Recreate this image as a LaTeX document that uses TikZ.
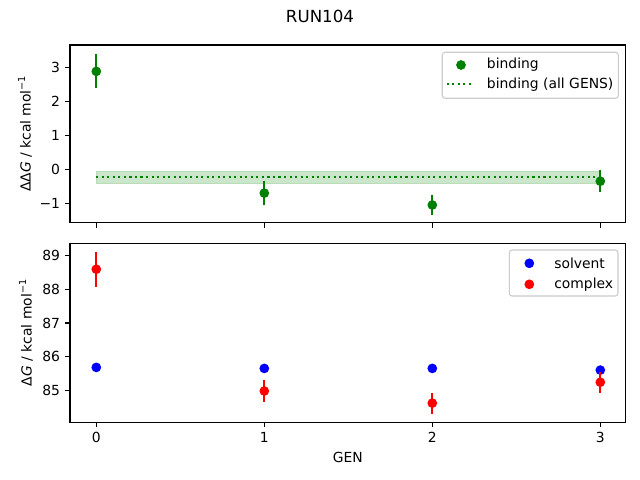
\documentclass[tikz,border=0pt]{standalone}
\usepackage{fontspec}
\setmainfont{DejaVu Sans}[ItalicFont={DejaVu Sans Oblique}]
\begin{document}
\begin{tikzpicture}[x=0.72pt,y=-0.72pt,
  spine/.style={line width=0.8pt,black},
  tickmark/.style={line width=0.8pt,black},
  ticklab/.style={inner sep=0pt,font=\fontsize{10}{12}\selectfont},
  errbar/.style={line width=1.5pt},
  legframe/.style={draw={rgb,255:red,204;green,204;blue,204},line width=0.8pt,fill=white,fill opacity=0.8,rounded corners=2pt},
  labtxt/.style={inner sep=0pt,font=\fontsize{10}{12}\selectfont}]
\definecolor{mgreen}{RGB}{0,128,0}
\definecolor{mband}{RGB}{204,230,204}
\definecolor{mbandedge}{RGB}{185,220,185}
\def\mr{3.5pt}
\useasboundingbox (0,0) rectangle (640,480);
\fill[white] (0,0) rectangle (640,480);
% title
\node[labtxt,font=\fontsize{12}{14}\selectfont] (title) at (320,16.5) {RUN104};
% ---------- top axes ----------
\fill[mband,draw=mbandedge,line width=0.5pt] (96.3,171.3) rectangle (600.3,183.6);
\draw[mgreen,line width=1.5pt,dash pattern=on 1.5pt off 2.475pt] (96.3,176.8) -- (600.3,176.8);
\foreach \x/\y/\a/\b in {96.3/71.4/54.4/88.4, 264.3/193.1/181.2/205.0, 432.3/205.0/194.8/215.2, 600.3/181.2/170.0/192.4}{
  \draw[errbar,mgreen] (\x,\a) -- (\x,\b);
  \fill[mgreen] (\x,\y) circle[radius=\mr];
}
\draw[spine] (70,45) rectangle (625.6,222.7);
\foreach \y/\t in {67.3/3, 101.3/2, 135.3/1, 169.3/0, 203.3/−1}{
  \draw[tickmark] (70,\y) -- ++(-3.5pt,0);
  \node[ticklab,anchor=east] at ([xshift=-7pt]70,\y) {\t};
}
\foreach \x in {96.3,264.3,432.3,600.3}{
  \draw[tickmark] (\x,222.7) -- ++(0,-3.5pt);
}
\node[labtxt,rotate=90] (ylabtop) at (25,133.8) {ΔΔ\textit{G} / kcal mol\raisebox{0.75ex}{\fontsize{7}{7}\selectfont −1}};
% top legend
\draw[legframe] (442.3,52.3) rectangle (618.3,98.3);
\fill[mgreen] (461,65) circle[radius=\mr];
\node[labtxt,anchor=west] (lb1) at (486.7,65) {binding};
\draw[mgreen,line width=1.5pt,dash pattern=on 1.5pt off 2.475pt] (446.7,84.3) -- (474.3,84.3);
\node[labtxt,anchor=west] (lb2) at (486.7,84.3) {binding (all GENS)};
% ---------- bottom axes ----------
\foreach \x/\y in {96.3/367.4, 264.3/368.4, 432.3/368.4, 600.3/370.1}{
  \fill[blue] (\x,\y) circle[radius=\mr];
}
\foreach \x/\y/\a/\b in {96.3/269.2/251.7/286.7, 264.3/391.0/379.6/402.4, 432.3/403.1/392.7/413.5, 600.3/382.2/371.8/392.6}{
  \draw[errbar,red] (\x,\a) -- (\x,\b);
  \fill[red] (\x,\y) circle[radius=\mr];
}
\draw[spine] (70,243.3) rectangle (625.6,422.3);
\foreach \y/\t in {390.3/85, 356.65/86, 323.0/87, 289.35/88, 255.7/89}{
  \draw[tickmark] (70,\y) -- ++(-3.5pt,0);
  \node[ticklab,anchor=east] at ([xshift=-7pt]70,\y) {\t};
}
\foreach \x/\t in {96.3/0,264.3/1,432.3/2,600.3/3}{
  \draw[tickmark] (\x,422.3) -- ++(0,-3.5pt);
  \node[ticklab,anchor=north] at ([yshift=-7pt]\x,422.3) {\t};
}
\node[labtxt] (xlab) at (347.8,457.3) {GEN};
\node[labtxt,rotate=90] (ylabbot) at (26,332.8) {Δ\textit{G} / kcal mol\raisebox{0.75ex}{\fontsize{7}{7}\selectfont −1}};
% bottom legend
\draw[legframe] (509.3,250) rectangle (618,296);
\fill[blue] (529.3,263.3) circle[radius=\mr];
\node[labtxt,anchor=west] (ls1) at (554,263.3) {solvent};
\fill[red] (529.3,284.3) circle[radius=\mr];
\node[labtxt,anchor=west] (ls2) at (554,284.3) {complex};
\end{tikzpicture}
\end{document}
